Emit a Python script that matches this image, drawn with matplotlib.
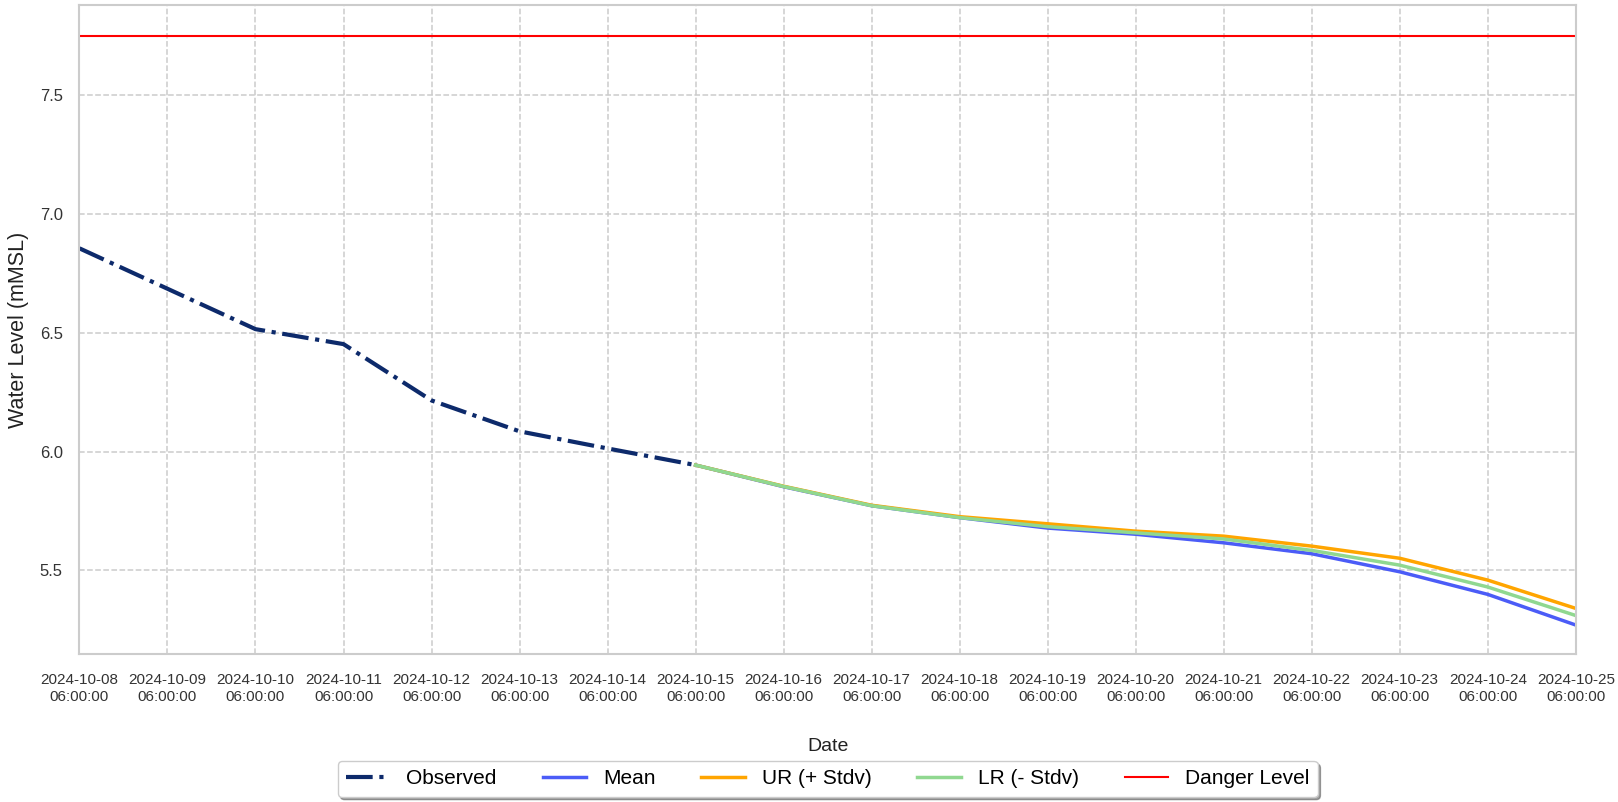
import matplotlib
matplotlib.use("Agg")
import matplotlib.pyplot as plt
import pandas as pd

plt.rcParams['font.family'] = ['Liberation Sans', 'DejaVu Sans']

obs_dates = pd.date_range("2024-10-08 06:00", "2024-10-15 06:00", freq="D")
obs_vals = [6.855, 6.685, 6.515, 6.452, 6.215, 6.085, 6.013, 5.943]

fc_dates = pd.date_range("2024-10-15 06:00", "2024-10-25 06:00", freq="D")
mean_vals = [5.943, 5.852, 5.772, 5.722, 5.678, 5.652, 5.616, 5.570, 5.494, 5.399, 5.270]
ur_vals   = [5.943, 5.854, 5.774, 5.726, 5.696, 5.665, 5.644, 5.602, 5.551, 5.459, 5.340]
lr_vals   = [5.943, 5.853, 5.772, 5.722, 5.684, 5.658, 5.632, 5.584, 5.522, 5.430, 5.310]
danger_level = 7.75

fig = plt.figure(figsize=(16.18, 8.02), dpi=100)
ax = fig.add_axes([0.0491, 0.1845, 0.9248, 0.809])

ax.plot(obs_dates, obs_vals, color='#0d2a6b', linestyle='-.', linewidth=3, label='Observed')
ax.plot(fc_dates, mean_vals, color='#4b5cf7', linewidth=2.5, label='Mean')
ax.plot(fc_dates, ur_vals, color='#ffa500', linewidth=2.5, label='UR (+ Stdv)')
ax.plot(fc_dates, lr_vals, color='#90d890', linewidth=2.5, label='LR (- Stdv)')
ax.axhline(danger_level, color='red', linewidth=1.5, label='Danger Level')

ax.set_xlim(obs_dates[0], fc_dates[-1])
ax.set_ylim(5.148, 7.878)
ax.set_yticks([5.5, 6.0, 6.5, 7.0, 7.5])
ax.yaxis.set_major_formatter(matplotlib.ticker.FormatStrFormatter('%.1f'))

ticks = pd.date_range("2024-10-08 06:00", "2024-10-25 06:00", freq="D")
ax.set_xticks(ticks)
ax.set_xticklabels([t.strftime("%Y-%m-%d\n%H:%M:%S") for t in ticks], fontsize=11)
ax.tick_params(axis='y', labelsize=12, pad=12)
ax.tick_params(axis='x', pad=14)
ax.tick_params(axis='both', length=0, colors='#333333')

ax.grid(True, linestyle='--', color='#cccccc', linewidth=1.1)
for s in ax.spines.values():
    s.set_color('#cccccc')
    s.set_linewidth(1.5)

ax.set_xlabel('Date', fontsize=14, color='#222222')
ax.xaxis.set_label_coords(0.5, -(746 - 654) / 649)
ax.xaxis.label.set_verticalalignment('center')
ax.set_ylabel('Water Level (mMSL)', fontsize=15.5, color='#222222')
ax.yaxis.set_label_coords(-(79 - 18) / 1496, 0.5)
ax.yaxis.label.set_verticalalignment('center')

ax.legend(loc='center', bbox_to_anchor=(0.5, -(779 - 654) / 649), ncol=5, fontsize=15,
          frameon=True, shadow=True, fancybox=True, handlelength=2.1,
          columnspacing=2.2, handletextpad=0.8)

fig.savefig("out.png", dpi=100)
